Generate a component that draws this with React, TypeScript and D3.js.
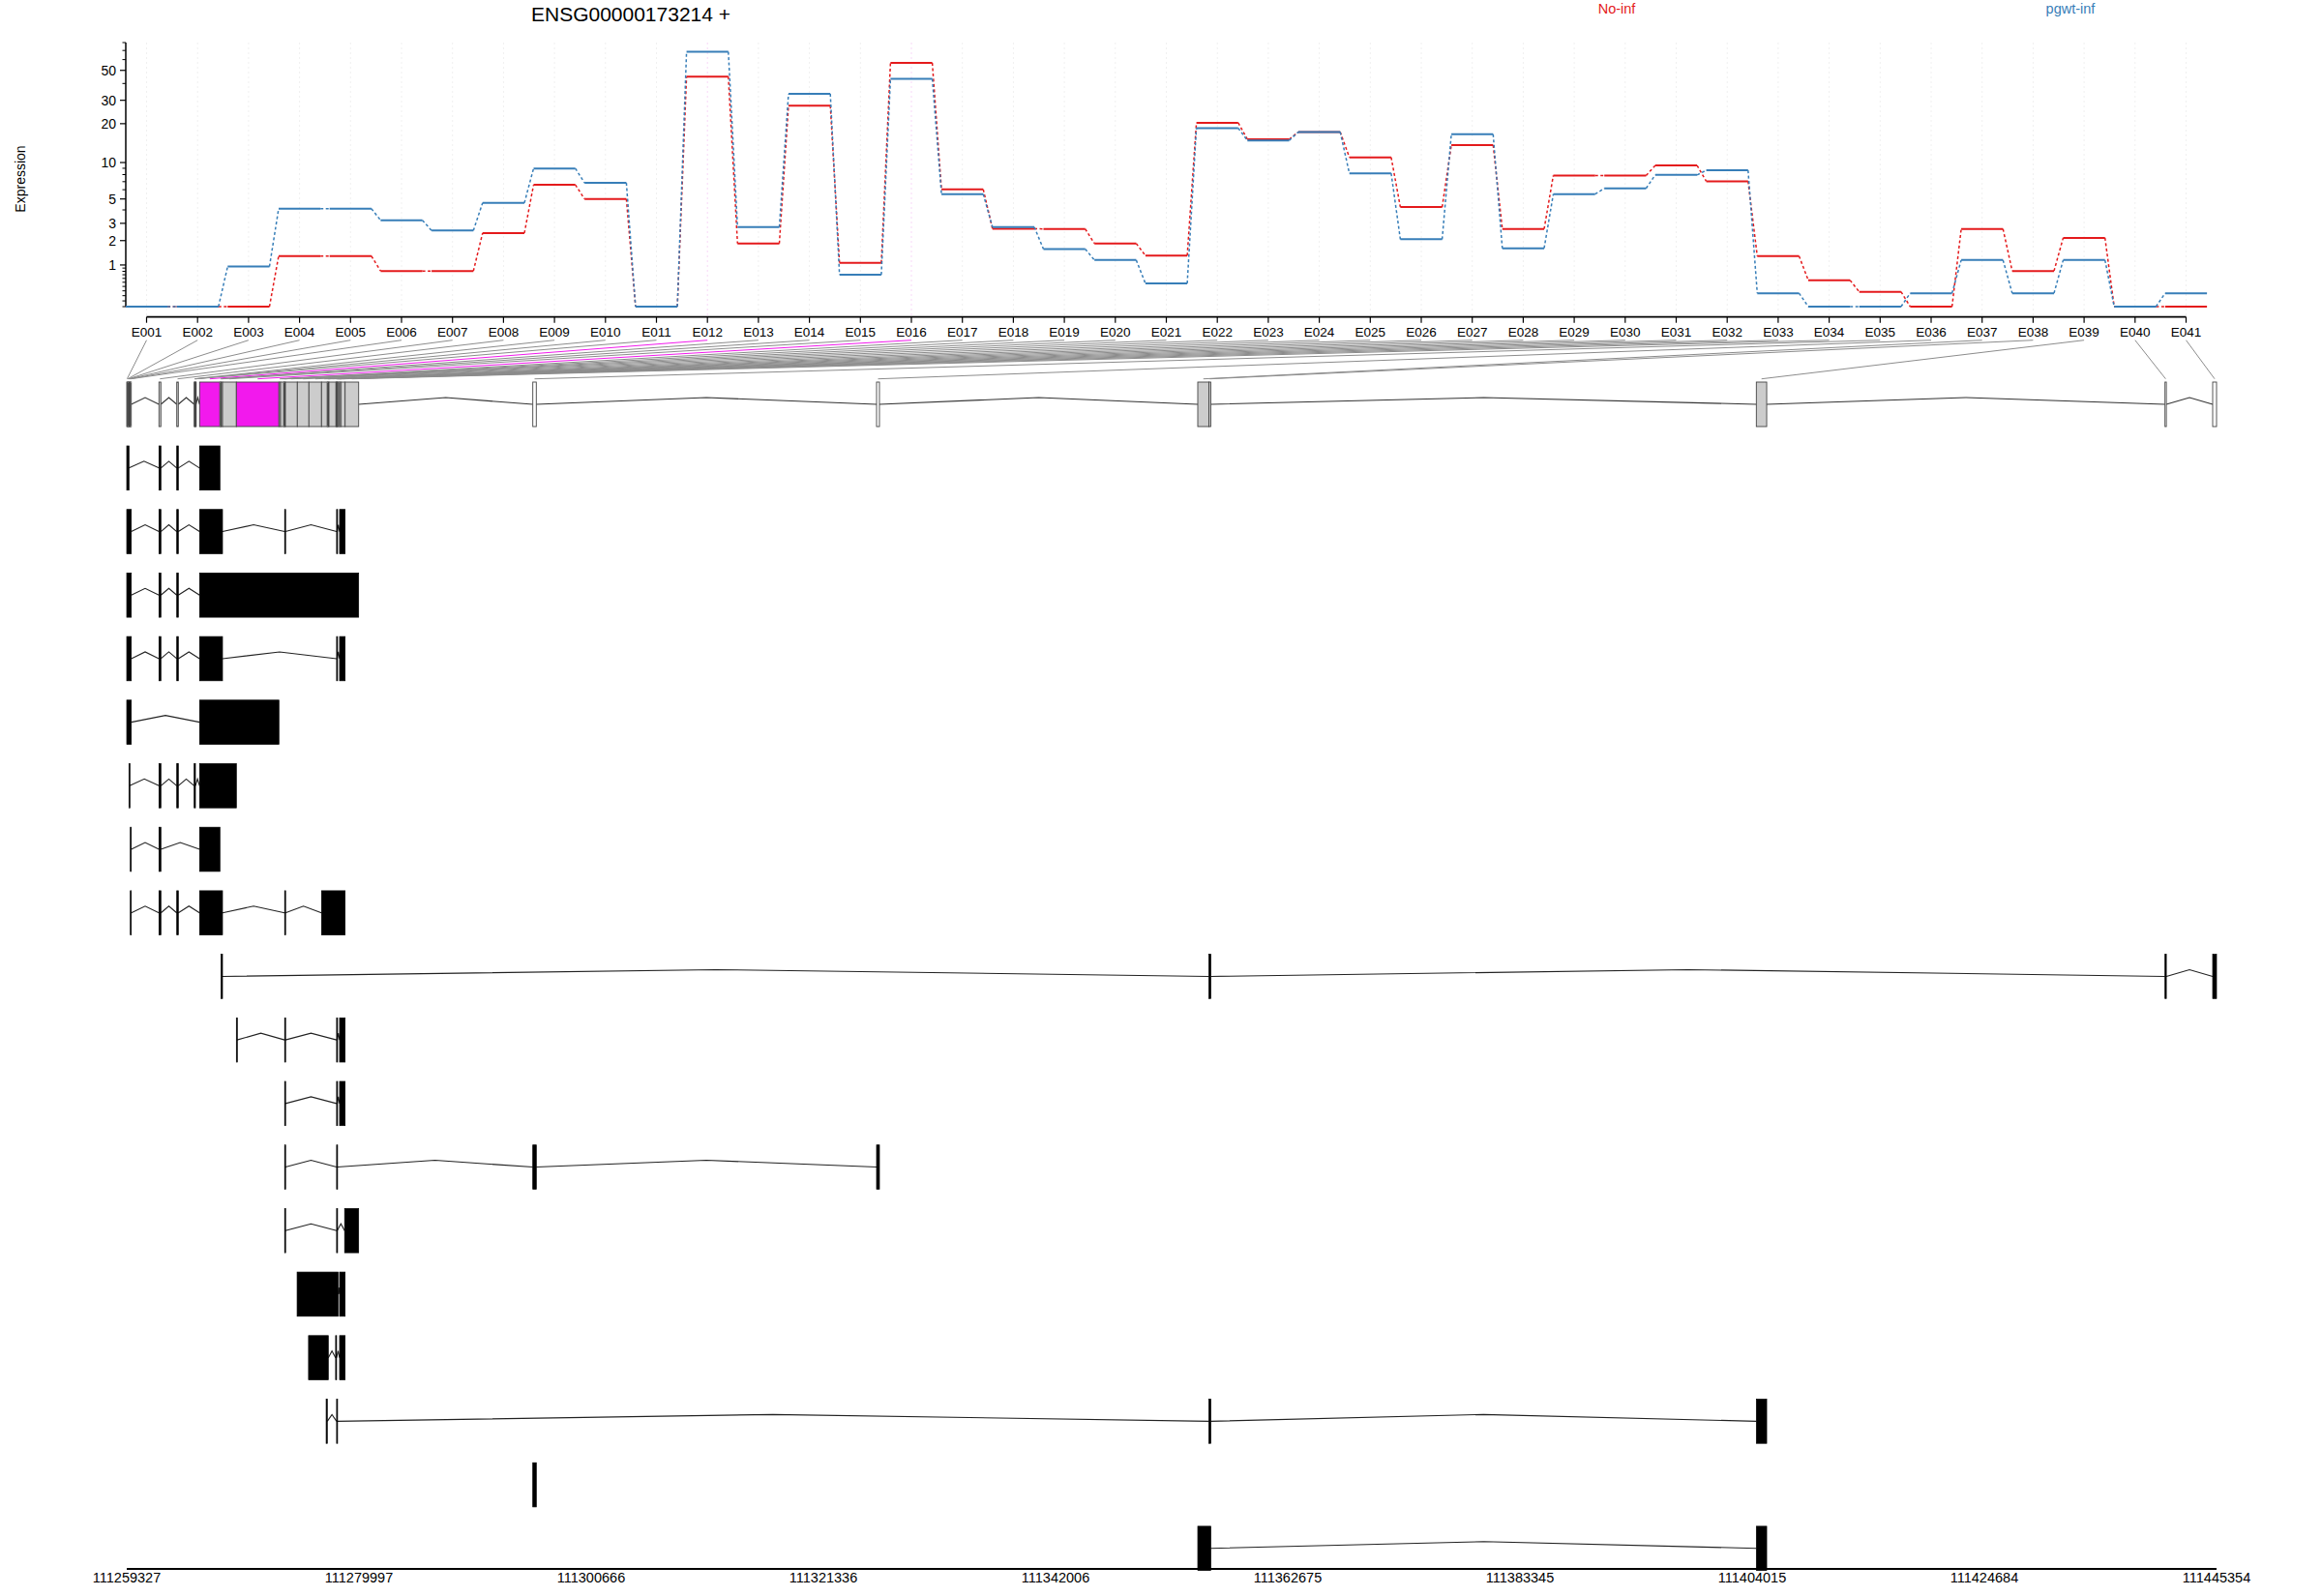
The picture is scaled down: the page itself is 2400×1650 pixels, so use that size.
import React from 'react';
import * as d3 from 'd3';

const TITLE = 'ENSG00000173214 +';
const GENE_START = 111259327;
const GENE_END = 111445354;

const exonIds = ['E001','E002','E003','E004','E005','E006','E007','E008','E009','E010','E011','E012','E013','E014','E015','E016','E017','E018','E019','E020','E021','E022','E023','E024','E025','E026','E027','E028','E029','E030','E031','E032','E033','E034','E035','E036','E037','E038','E039','E040','E041'];
const significant = ['E012', 'E016'];
const untested = ['E001', 'E002', 'E011', 'E035', 'E036', 'E040', 'E041'];

const conditions = ['No-inf', 'pgwt-inf'];
const noInf = [0,0,0,1.32,1.32,0.81,0.81,2.40,6.59,5.0,0,44.9,1.86,27.3,1.07,56.8,6.03,2.66,2.64,1.86,1.34,20.3,15.2,17.3,11.0,4.24,13.7,2.64,7.87,7.87,9.47,7.05,1.32,0.55,0.28,0,2.64,0.81,2.14,0,0];
const pgwtInf = [0,0,0.95,4.1,4.1,3.21,2.55,4.62,8.97,6.84,0,68.4,2.76,33.5,0.70,43.3,5.5,2.76,1.61,1.17,0.47,18.5,14.9,17.3,8.2,2.07,16.6,1.64,5.5,6.16,7.95,8.66,0.25,0,0,0.25,1.17,0.25,1.17,0,0.25];

const yMajorTicks = [1, 2, 3, 5, 10, 20, 30, 50];
const yMinorTicks = [0, 0.1, 0.2, 0.3, 0.4, 0.5, 0.6, 0.7, 0.8, 0.9, 4, 6, 7, 8, 9, 40, 60, 70, 80];

const exonStarts = [111259327,111259387,111259447,111259525,111259587,111259646,111262195,111263780,111265330,111265381,111265442,111265812,111267621,111267724,111267853,111269085,111272874,111273021,111273305,111273383,111273451,111274511,111275544,111276664,111277180,111277258,111277327,111277956,111278008,111278059,111278188,111278274,111278386,111278765,111295473,111326073,111354666,111355657,111404388,111440764,111445010];
const exonEnds = [111259387,111259447,111259525,111259587,111259646,111259732,111262367,111263917,111265381,111265442,111265485,111267621,111267724,111267853,111269085,111272874,111273021,111273305,111273383,111273451,111274511,111275544,111276664,111277180,111277258,111277327,111277956,111278008,111278059,111278188,111278274,111278386,111278765,111279971,111295783,111326331,111355657,111355829,111405310,111440884,111445354];

const transcripts: number[][][] = [
  [[111259327,111259525],[111262195,111262367],[111263780,111263917],[111265812,111267621]],
  [[111259327,111259732],[111262195,111262367],[111263780,111263917],[111265812,111267853],[111273383,111273451],[111278008,111278059],[111278274,111278765]],
  [[111259327,111259732],[111262195,111262367],[111263780,111263917],[111265812,111279971]],
  [[111259327,111259732],[111262195,111262367],[111263780,111263917],[111265812,111267853],[111278008,111278059],[111278274,111278765]],
  [[111259327,111259732],[111265812,111272874]],
  [[111259525,111259587],[111262195,111262367],[111263780,111263917],[111265330,111265442],[111265812,111269085]],
  [[111259646,111259732],[111262195,111262367],[111265812,111267621]],
  [[111259646,111259732],[111262195,111262367],[111263780,111263917],[111265812,111267853],[111273383,111273451],[111276664,111278765]],
  [[111267724,111267853],[111355657,111355829],[111440764,111440884],[111445010,111445354]],
  [[111269085,111269145],[111273383,111273451],[111278008,111278059],[111278274,111278765]],
  [[111273383,111273451],[111278008,111278059],[111278274,111278765]],
  [[111273383,111273451],[111278008,111278059],[111295473,111295783],[111326073,111326331]],
  [[111273383,111273451],[111278008,111278059],[111278722,111279971]],
  [[111274493,111278145],[111278274,111278765]],
  [[111275510,111277267],[111277921,111278008],[111278274,111278765]],
  [[111277077,111277180],[111278008,111278059],[111355657,111355829],[111404388,111405310]],
  [[111295473,111295783]],
  [[111354666,111355829],[111404388,111405310]],
];

const genomicTickLabels = ['111259327','111279997','111300666','111321336','111342006','111362675','111383345','111404015','111424684','111445354'];

const RED = '#E41A1C';
const BLUE = '#377EB8';
const MAGENTA = '#F219ED';
const FONT = '"Liberation Sans", Arial, Helvetica, sans-serif';

export default function App() {
  const W = 2400, H = 1650;
  const xIdx = d3.scaleLinear().domain([0, exonIds.length - 1]).range([151.5, 2259.5]);
  const yExp = d3.scaleSymlog().constant(1).domain([0, 80]).range([317, 44]);
  const xGen = d3.scaleLinear().domain([GENE_START, GENE_END]).range([131, 2291]);
  const half = (xIdx(1) - xIdx(0)) * 0.41;

  const axisY = 327.7;
  const yAxisX = 130;
  const labelBottom = 351.7;
  const geneTop = 395, geneH = 46;
  const trTop0 = 461, trStep = 65.7, trH = 45.7;
  const genAxisY = 1622;
  const peak = 7;

  const series = [
    { name: conditions[0], values: noInf, color: RED },
    { name: conditions[1], values: pgwtInf, color: BLUE },
  ];

  const introns = (segs: number[][], top: number, h: number, keyp: string, color: string) => {
    const mid = top + h / 2;
    const out: any[] = [];
    for (let i = 0; i < segs.length - 1; i++) {
      const a = segs[i][1], b = segs[i + 1][0];
      if (b - a <= 1) continue;
      const x1 = xGen(a), x2 = xGen(b);
      const pts = `${x1},${mid} ${(x1 + x2) / 2},${mid - peak} ${x2},${mid}`;
      out.push(<polyline key={keyp + i} points={pts} fill="none" stroke={color} strokeWidth={1.1} />);
    }
    return out;
  };

  const geneSegs = exonStarts.map((s, i) => [s, exonEnds[i]]);
  const exonFill = (id: string) => significant.includes(id) ? MAGENTA : (untested.includes(id) ? '#FFFFFF' : '#CCCCCC');

  return (
    <svg width={W} height={H} style={{ position: 'absolute', left: 0, top: 0, background: '#fff' }} fontFamily={FONT}>
      <rect x={0} y={0} width={W} height={H} fill="#fff" />
      {/* title and legend */}
      <text x={652} y={22} fontSize={21} textAnchor="middle" fill="#000">{TITLE}</text>
      <text x={1671} y={14} fontSize={14.5} textAnchor="middle" fill={RED}>{conditions[0]}</text>
      <text x={2140} y={14} fontSize={14.5} textAnchor="middle" fill={BLUE}>{conditions[1]}</text>
      <text transform={`translate(26,185) rotate(-90)`} fontSize={14} textAnchor="middle" fill="#000">Expression</text>

      {/* vertical dotted grid */}
      {exonIds.map((id, i) => (
        <line key={'g' + id} x1={xIdx(i)} x2={xIdx(i)} y1={44} y2={axisY}
          stroke={significant.includes(id) ? '#f8d8f7' : '#f0f0f0'} strokeWidth={1} strokeDasharray="2,3" />
      ))}

      {/* y axis */}
      <line x1={yAxisX} x2={yAxisX} y1={yExp(0)} y2={yExp(80)} stroke="#000" strokeWidth={1.5} />
      {yMajorTicks.map(t => (
        <g key={'ym' + t}>
          <line x1={yAxisX - 6} x2={yAxisX} y1={yExp(t)} y2={yExp(t)} stroke="#000" strokeWidth={1.2} />
          <text x={yAxisX - 10} y={yExp(t) + 5} fontSize={14} textAnchor="end" fill="#000">{t}</text>
        </g>
      ))}
      {yMinorTicks.map(t => (
        <line key={'yn' + t} x1={yAxisX - 3.5} x2={yAxisX} y1={yExp(t)} y2={yExp(t)} stroke="#000" strokeWidth={1} />
      ))}

      {/* x axis with exon labels */}
      <line x1={xIdx(0)} x2={xIdx(exonIds.length - 1)} y1={axisY} y2={axisY} stroke="#000" strokeWidth={1.8} />
      {exonIds.map((id, i) => (
        <g key={'xt' + id}>
          <line x1={xIdx(i)} x2={xIdx(i)} y1={axisY} y2={axisY + 6} stroke="#000" strokeWidth={1.2} />
          <text x={xIdx(i)} y={348} fontSize={13.5} textAnchor="middle" fill="#000">{id}</text>
        </g>
      ))}

      {/* expression lines */}
      {series.map(s => (
        <g key={'s' + s.name}>
          {s.values.map((v, i) => i < s.values.length - 1 ? (
            <line key={'c' + i} x1={xIdx(i) + half} y1={yExp(v)} x2={xIdx(i + 1) - half} y2={yExp(s.values[i + 1])}
              stroke={s.color} strokeWidth={1.5} strokeDasharray="3,2.5" />
          ) : null)}
          {s.values.map((v, i) => (
            <line key={'h' + i} x1={xIdx(i) - half} x2={xIdx(i) + half} y1={yExp(v)} y2={yExp(v)}
              stroke={s.color} strokeWidth={2} />
          ))}
        </g>
      ))}

      {/* connector lines from labels to exons */}
      {exonIds.map((id, i) => (
        <line key={'cn' + id} x1={xIdx(i)} y1={labelBottom} x2={xGen((exonStarts[i] + exonEnds[i]) / 2)} y2={391.7}
          stroke={significant.includes(id) ? MAGENTA : '#8c8c8c'} strokeWidth={1} />
      ))}

      {/* gene model */}
      {introns(geneSegs, geneTop, geneH, 'gi', '#333')}
      {exonIds.map((id, i) => (
        <rect key={'ge' + id} x={xGen(exonStarts[i])} y={geneTop}
          width={Math.max(xGen(exonEnds[i]) - xGen(exonStarts[i]), 0.8)} height={geneH}
          fill={exonFill(id)} stroke="#444" strokeWidth={0.9} />
      ))}

      {/* transcripts */}
      {transcripts.map((tr, k) => {
        const top = trTop0 + k * trStep;
        return (
          <g key={'tr' + k}>
            {introns(tr, top, trH, 'ti' + k + '_', '#222')}
            {tr.map((seg, j) => (
              <rect key={'te' + j} x={xGen(seg[0])} y={top}
                width={Math.max(xGen(seg[1]) - xGen(seg[0]), 1)} height={trH}
                fill="#000" stroke="#000" strokeWidth={0.7} />
            ))}
          </g>
        );
      })}

      {/* genomic axis */}
      <line x1={xGen(GENE_START)} x2={xGen(GENE_END)} y1={genAxisY} y2={genAxisY} stroke="#000" strokeWidth={2} />
      {genomicTickLabels.map(l => (
        <text key={'gl' + l} x={xGen(+l)} y={1636} fontSize={14.5} textAnchor="middle" fill="#000">{l}</text>
      ))}
    </svg>
  );
}
